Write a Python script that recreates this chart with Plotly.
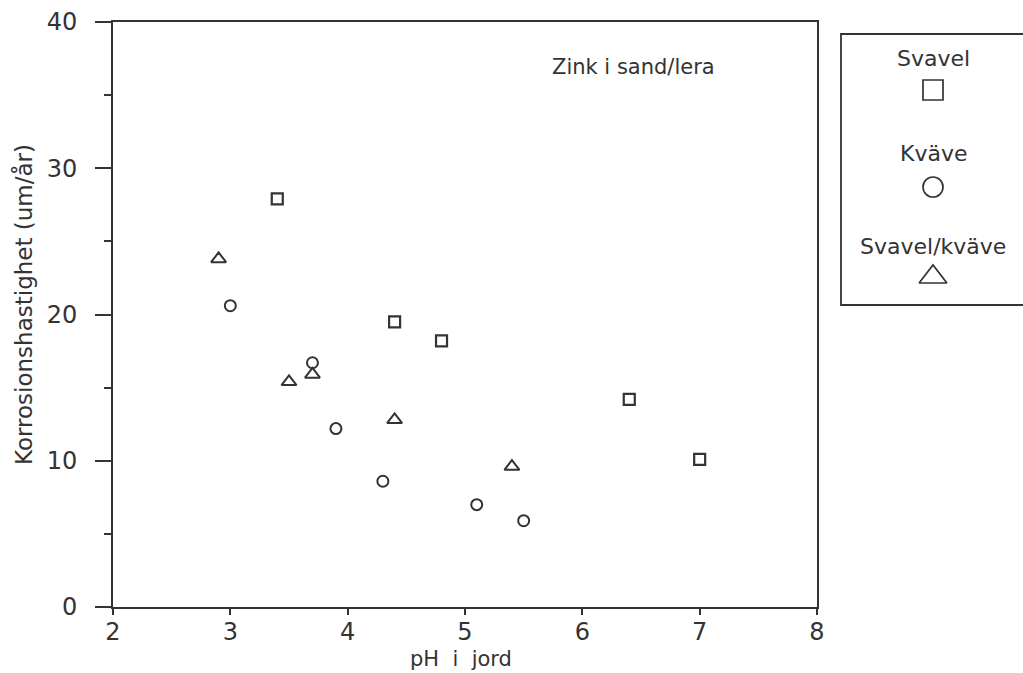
import plotly.graph_objects as go

# Data
svavel_ph = [3.4, 4.4, 4.8, 6.4, 7.0]
svavel_rate = [27.9, 19.5, 18.2, 14.2, 10.1]

kvave_ph = [3.0, 3.7, 3.9, 4.3, 5.1, 5.5]
kvave_rate = [20.6, 16.7, 12.2, 8.6, 7.0, 5.9]

sk_ph = [2.9, 3.5, 3.7, 4.4, 5.4]
sk_rate = [23.8, 15.4, 15.9, 12.8, 9.6]

x_ticks = [2, 3, 4, 5, 6, 7, 8]
y_ticks = [0, 10, 20, 30, 40]

series_names = ["Svavel", "Kväve", "Svavel/kväve"]
x_title = "pH\u00a0\u00a0i\u00a0\u00a0jord"
y_title = "Korrosionshastighet (um/år)"

INK = "#333333"
FONT = "DejaVu Sans"

W, H = 1023, 673
ML, MR, MT, MB = 113, 0, 22, 66
PLOT_R = 817
plot_w = W - ML - MR
def px_x(p):
    return (p - ML) / plot_w
def px_y(p):
    return (H - MB - p) / (H - MB - MT)

fig = go.Figure()

fig.add_trace(go.Scatter(x=svavel_ph, y=svavel_rate, mode="markers", name=series_names[0],
                         marker=dict(symbol="square-open", size=11, color=INK, line=dict(width=2.2))))
fig.add_trace(go.Scatter(x=kvave_ph, y=kvave_rate, mode="markers", name=series_names[1],
                         marker=dict(symbol="circle-open", size=11, color=INK, line=dict(width=2))))
fig.add_trace(go.Scatter(x=sk_ph, y=sk_rate, mode="markers", name=series_names[2],
                         marker=dict(symbol="triangle-up-open", size=13, color=INK, line=dict(width=2))))

# Custom legend symbols on an auxiliary hidden axis (pixel-like units)
leg_sym_y = [90, 187, 277]
leg_symbols = ["square-open", "circle-open", "triangle-up-open"]
leg_sizes = [20, 20, 24]
for sy, sym, sz in zip(leg_sym_y, leg_symbols, leg_sizes):
    fig.add_trace(go.Scatter(x=[933], y=[sy], mode="markers", xaxis="x2", yaxis="y2",
                             marker=dict(symbol=sym, size=sz, color=INK, line=dict(width=1.7)),
                             showlegend=False, hoverinfo="skip"))

fig.update_layout(
    width=W, height=H, autosize=False,
    margin=dict(l=ML, r=MR, t=MT, b=MB, pad=0, autoexpand=False),
    paper_bgcolor="white", plot_bgcolor="white",
    showlegend=False,
    font=dict(family=FONT, color=INK, size=20),
    xaxis=dict(
        domain=[0, px_x(PLOT_R)],
        range=[2, 8], tickvals=x_ticks, ticktext=[str(v) for v in x_ticks],
        showgrid=False, zeroline=False,
        showline=True, linecolor=INK, linewidth=2, mirror=True,
        ticks="outside", ticklen=6, tickwidth=1.5, tickcolor=INK,
        ticklabelstandoff=-4,
        tickfont=dict(size=24, family=FONT, color=INK),
    ),
    yaxis=dict(
        range=[0, 40], tickvals=y_ticks, ticktext=[str(v) for v in y_ticks],
        showgrid=False, zeroline=False,
        showline=True, linecolor=INK, linewidth=2, mirror=True,
        ticks="outside", ticklen=16, tickwidth=1.5, tickcolor=INK,
        ticklabelstandoff=13,
        minor=dict(ticks="outside", ticklen=7, tickwidth=1.5, tickcolor=INK, dtick=5, showgrid=False),
        tickfont=dict(size=24, family=FONT, color=INK),
    ),
    xaxis2=dict(domain=[px_x(838), 1], range=[838, W], visible=False, anchor="y2"),
    yaxis2=dict(domain=[0, 1], range=[H - MB, MT], visible=False, anchor="x2"),
)

# Axis titles
fig.add_annotation(x=px_x(461), y=px_y(659), xref="paper", yref="paper",
                   text=x_title, showarrow=False, xanchor="center", yanchor="middle",
                   font=dict(size=21, family=FONT, color=INK))
fig.add_annotation(x=px_x(24), y=px_y(305), xref="paper", yref="paper",
                   text=y_title, showarrow=False, xanchor="center", yanchor="middle",
                   textangle=-90, font=dict(size=23, family=FONT, color=INK))

# Legend box
fig.add_shape(type="rect", xref="paper", yref="paper",
              x0=px_x(841), x1=px_x(1040), y0=px_y(305), y1=px_y(34),
              line=dict(color=INK, width=1.8), fillcolor="rgba(0,0,0,0)")

leg_text_y = [58, 153, 247]
for name, ty in zip(series_names, leg_text_y):
    fig.add_annotation(x=px_x(933), y=px_y(ty), xref="paper", yref="paper",
                       text=name, showarrow=False, xanchor="center", yanchor="middle",
                       font=dict(size=22, family=FONT, color=INK))

fig.add_annotation(x=px_x(633), y=px_y(67), xref="paper", yref="paper",
                   text="Zink i sand/lera", showarrow=False, xanchor="center", yanchor="middle",
                   font=dict(size=21, family=FONT, color=INK))

fig.write_html("out.html")
